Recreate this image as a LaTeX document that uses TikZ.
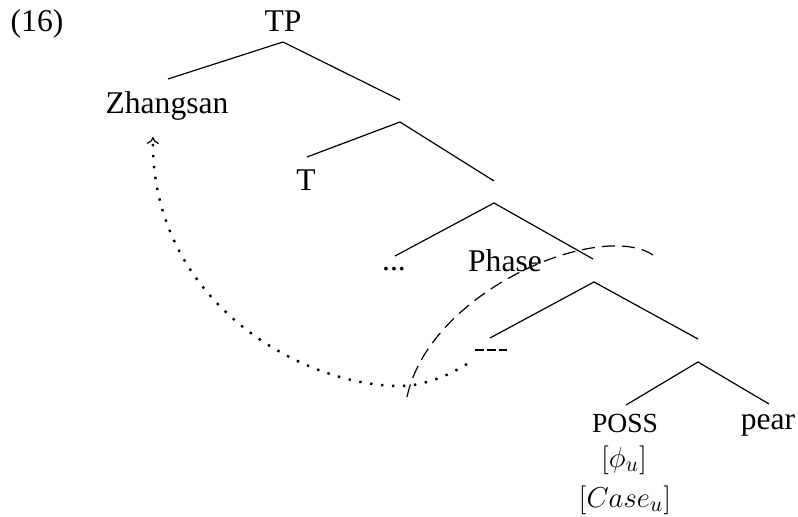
\documentclass[tikz,border=0pt]{standalone}
\usepackage{fontspec}
\setmainfont{Liberation Serif}
\usetikzlibrary{arrows.meta}
\begin{document}
\begin{tikzpicture}[x=0.5pt,y=-0.5pt,
  lbl/.style={inner sep=0pt,anchor=base,font=\fontsize{15.8}{19}\selectfont},
  br/.style={line width=0.6pt},
  tracedash/.style={line width=0.6pt,dash pattern=on 4.5pt off 1.5pt},
  phaseline/.style={line width=0.6pt,dash pattern=on 6.5pt off 3.5pt},
  movearrow/.style={line width=1.2pt,dash pattern=on 1.2pt off 4.3pt,-{To[length=3.5pt,width=6pt,line width=0.6pt]}}]
\useasboundingbox (0,0) rectangle (798,517);
% labels
\node[lbl] (ex) at (37,32) {(16)};
\node[lbl] (TP) at (283,32) {TP};
\node[lbl] (zh) at (167,114) {Zhangsan};
\node[lbl] (T) at (306,191) {T};
\node[lbl] (dots) at (394,271) {...};
\node[lbl] (phase) at (505,272) {Phase};
\node[lbl] (poss) at (625,433) {\fontsize{13.8}{16}\selectfont POSS};
\node[lbl] (pear) at (768,430) {pear};
\node[inner sep=0pt,font=\fontsize{15.8}{19}\selectfont] (phi) at (624,460) {$[\phi_u]$};
\node[inner sep=0pt,font=\fontsize{15.8}{19}\selectfont] (case) at (625,500) {$[Case_u]$};
% tree coordinates
\coordinate (a1) at (283,42);
\coordinate (l1) at (168,79);
\coordinate (r1) at (400,100);
\coordinate (a2) at (400,122);
\coordinate (l2) at (307,157);
\coordinate (r2) at (494,181);
\coordinate (a3) at (494,203);
\coordinate (l3) at (395,256);
\coordinate (r3) at (593,259);
\coordinate (a4) at (594,282);
\coordinate (l4) at (490,338);
\coordinate (r4) at (698,339);
\coordinate (a5) at (698,362);
\coordinate (l5) at (626,405);
\coordinate (r5) at (769,404);
\draw[br] (l1) -- (a1) -- (r1);
\draw[br] (l2) -- (a2) -- (r2);
\draw[br] (l3) -- (a3) -- (r3);
\draw[br] (l4) -- (a4) -- (r4);
\draw[br] (l5) -- (a5) -- (r5);
% trace
\coordinate (t1) at (475,350);
\coordinate (t2) at (507,350);
\draw[tracedash] (t1) -- (t2);
% movement arrow
\coordinate (ms) at (467,364);
\coordinate (mb) at (400,386);
\coordinate (me) at (153,137);
\draw[movearrow] (ms) .. controls (445,378) and (420,386) .. (mb)
   .. controls (300,386) and (150,300) .. (me);
% phase boundary
\coordinate (ps) at (407,397);
\coordinate (pe) at (653,255);
\draw[phaseline] (ps) .. controls (430,290) and (600,220) .. (pe);
\end{tikzpicture}
\end{document}
